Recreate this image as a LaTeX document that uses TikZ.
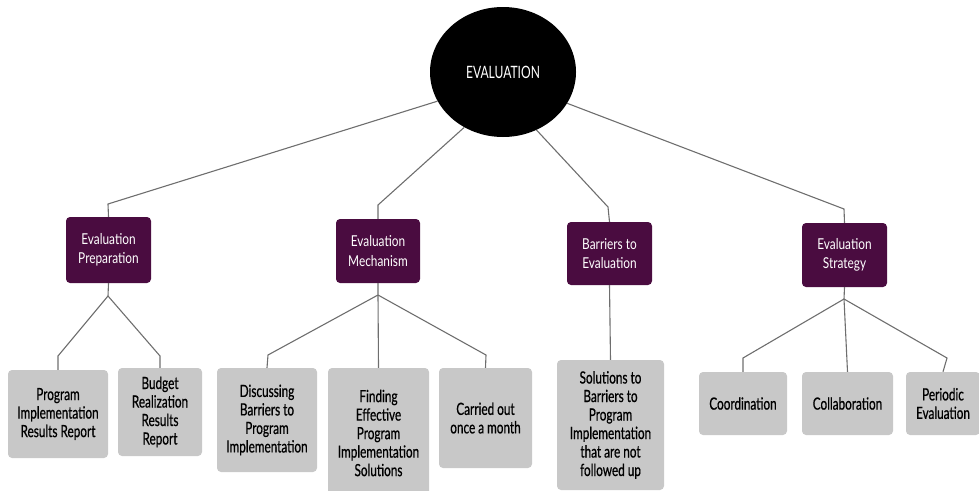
\documentclass[tikz,border=0pt]{standalone}
\usepackage{fontspec}
\setmainfont{Lato}[FakeStretch=0.79]
\newfontfamily\heavylato{Lato}[FakeStretch=0.70,FakeBold=0.6]
\newfontfamily\rootlato{Lato}[FakeStretch=0.71]
\usetikzlibrary{shapes.geometric}
\definecolor{linegray}{HTML}{6E6E6E}
\definecolor{purp}{HTML}{4A0C40}
\definecolor{childgray}{HTML}{C8C8C8}
\begin{document}
\begin{tikzpicture}[x=1pt,y=-1pt,
  conn/.style={draw=linegray, line width=1.1pt},
  parentbox/.style 2 args={fill=purp, rounded corners=4pt, text=white, align=center,
    inner sep=0pt, minimum width=#1, minimum height=#2,
    font=\fontsize{15}{19.5}\selectfont},
  childbox/.style 2 args={fill=childgray, rounded corners=4pt, text=black, align=center,
    inner sep=0pt, minimum width=#1, minimum height=#2,
    font=\heavylato\fontsize{16.8}{18.5}\selectfont}]
\useasboundingbox (0,0) rectangle (979,490);
\begin{scope}
\clip (0,0) rectangle (979,490);
% root
\node[ellipse, fill=black, minimum width=146, minimum height=130, inner sep=0pt,
  text=white, font=\rootlato\fontsize{17}{18}\selectfont] (root) at (503,72) {EVALUATION};
% parents
\node[parentbox={85}{66}] (prep) at (108.5,250) {Evaluation\\Preparation};
\node[parentbox={84}{64}] (mech) at (378,251) {Evaluation\\Mechanism};
\node[parentbox={85}{63}] (barr) at (609.5,253.5) {Barriers to\\Evaluation};
\node[parentbox={85}{64}] (strat) at (844.5,255) {Evaluation\\Strategy};
% children
\node[childbox={100}{88}] (prog) at (58,414) {Program\\Implementation\\Results Report};
\node[childbox={84}{88}] (budg) at (160,412) {Budget\\Realization\\Results\\Report};
\node[childbox={100}{104}] (disc) at (267,420) {Discussing\\Barriers to\\Program\\Implementation};
\node[childbox={101}{130}] (find) at (378.5,433) {Finding\\Effective\\Program\\Implementation\\Solutions};
\node[childbox={93}{100}] (carr) at (485.5,418) {Carried out\\once a month};
\node[childbox={107}{130}] (sol) at (610.5,425) {Solutions to\\Barriers to\\Program\\Implementation\\that are not\\followed up};
\node[childbox={88}{63}] (coord) at (743,403.5) {Coordination};
\node[childbox={91}{63}] (collab) at (847.5,403.5) {Collaboration};
\node[childbox={74}{63}] (period) at (943,403.5) {Periodic\\Evaluation};
% coordinates
\coordinate (tp) at (108,204);
\coordinate (tm) at (378,205);
\coordinate (tb) at (608,207);
\coordinate (ts) at (844,209);
\coordinate (jp) at (108,296);
\coordinate (jpl) at (58,356);
\coordinate (jpr) at (160,356);
\coordinate (jm) at (378,295);
\coordinate (jml) at (268,355);
\coordinate (jmr) at (486,355);
\coordinate (js) at (844,299);
\coordinate (jsl) at (743,358);
\coordinate (jsr) at (947,358);
% top connectors
\draw[conn] (root.204) -- (tp) -- (prep.north);
\draw[conn] (root.235) -- (tm) -- (mech.north);
\draw[conn] (root.300) -- (tb) -- (barr.north);
\draw[conn] (root.334) -- (ts) -- (strat.north);
% lower connectors
\draw[conn] (prep.south) -- (jp) -- (jpl) -- (prog.north);
\draw[conn] (jp) -- (jpr) -- (budg.north);
\draw[conn] (mech.south) -- (jm) -- (jml) -- (disc.north);
\draw[conn] (jm) -- (find.north);
\draw[conn] (jm) -- (jmr) -- (carr.north);
\draw[conn] (barr.south) -- (sol.north);
\draw[conn] (strat.south) -- (js) -- (jsl) -- (coord.north);
\draw[conn] (js) -- (collab.north);
\draw[conn] (js) -- (jsr) -- (period.north);
\end{scope}
\end{tikzpicture}
\end{document}
